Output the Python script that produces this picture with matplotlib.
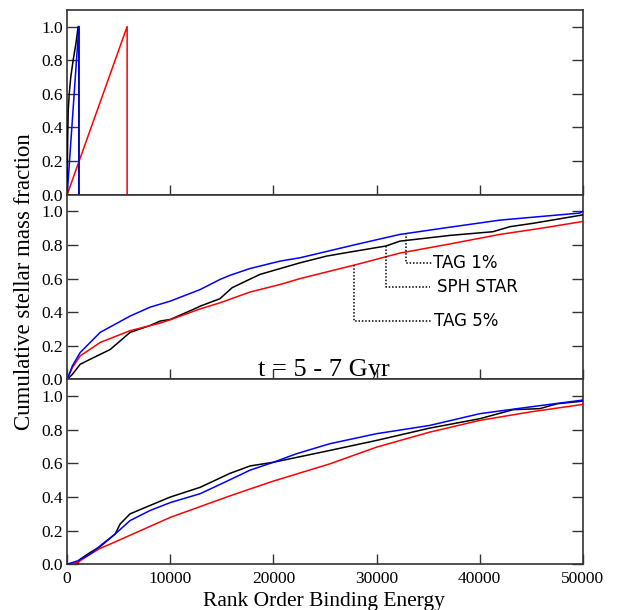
import numpy as np
import matplotlib
matplotlib.use("Agg")
import matplotlib.pyplot as plt

# top panel: first few thousand particles
top_black_x = [0, 40, 100, 200, 350, 580, 850, 1066, 1130, 1130]
top_black_y = [0, 0.3, 0.5, 0.6, 0.7, 0.8, 0.9, 1.0, 1.0, 0]
top_blue_x = [0, 1130, 1150, 1150]
top_blue_y = [0, 1.0, 1.0, 0]
top_red_x = [0, 5814, 5814]
top_red_y = [0, 1.0, 0]

# middle panel
mid_blue_x = [0, 500, 1260, 3200, 6100, 8040, 10000, 12900, 14820, 15800, 17733,
              20640, 22580, 28070, 32270, 37000, 41960, 46000, 49700, 50000]
mid_blue_y = [0, 0.08, 0.16, 0.28, 0.377, 0.43, 0.466, 0.535, 0.595, 0.62, 0.66,
              0.704, 0.724, 0.804, 0.863, 0.905, 0.948, 0.97, 0.99, 1.0]
mid_black_x = [0, 500, 1260, 2230, 4170, 6100, 8000, 9010, 10000, 12240, 12900,
               14800, 16000, 17733, 18700, 22580, 25160, 27420, 30910, 32270,
               37110, 41280, 42930, 45160, 49700, 50000]
mid_black_y = [0, 0.03, 0.09, 0.12, 0.178, 0.28, 0.32, 0.347, 0.357, 0.417, 0.436,
               0.48, 0.546, 0.597, 0.625, 0.694, 0.734, 0.758, 0.794, 0.823,
               0.857, 0.879, 0.909, 0.929, 0.976, 0.98]
mid_red_x = [0, 500, 1260, 3200, 6100, 9000, 10000, 12900, 14820, 17733, 20640,
             22580, 28070, 32270, 37000, 41960, 46000, 50000]
mid_red_y = [0, 0.07, 0.14, 0.22, 0.29, 0.335, 0.355, 0.42, 0.456, 0.52, 0.565,
             0.60, 0.684, 0.752, 0.805, 0.863, 0.90, 0.94]

# bottom panel
bot_blue_x = [0, 1000, 2230, 3200, 4650, 6100, 8040, 10000, 12900, 15790, 17733,
              20000, 22200, 25450, 30000, 35140, 40000, 44860, 49870, 50000]
bot_blue_y = [0, 0.02, 0.06, 0.11, 0.18, 0.26, 0.32, 0.367, 0.42, 0.503, 0.56,
              0.607, 0.657, 0.717, 0.777, 0.826, 0.896, 0.936, 0.976, 0.98]
bot_black_x = [0, 1000, 1260, 2230, 3200, 4650, 5140, 6100, 8040, 10000, 12900,
               15790, 17733, 20000, 25450, 30000, 35140, 40000, 43250, 45830,
               47500, 49870, 50000]
bot_black_y = [0, 0, 0.03, 0.07, 0.105, 0.18, 0.24, 0.30, 0.35, 0.40, 0.458,
               0.541, 0.585, 0.607, 0.677, 0.737, 0.81, 0.866, 0.92, 0.926,
               0.955, 0.97, 0.975]
bot_red_x = [0, 1000, 2230, 3200, 4170, 10000, 15790, 17733, 20000, 25450, 30000,
             35140, 40000, 44860, 49870, 50000]
bot_red_y = [0, 0.01, 0.06, 0.095, 0.12, 0.279, 0.407, 0.448, 0.495, 0.597, 0.697,
             0.786, 0.856, 0.906, 0.95, 0.952]

xticks = [0, 10000, 20000, 30000, 40000, 50000]
yticks = [0.0, 0.2, 0.4, 0.6, 0.8, 1.0]

serif = ["Liberation Serif", "DejaVu Serif"]

fig, axes = plt.subplots(3, 1, figsize=(6.22, 6.10), dpi=100, sharex=True)
fig.subplots_adjust(left=0.108, right=0.937, top=0.984, bottom=0.075, hspace=0)

panels = [
    (top_black_x, top_black_y, top_blue_x, top_blue_y, top_red_x, top_red_y),
    (mid_black_x, mid_black_y, mid_blue_x, mid_blue_y, mid_red_x, mid_red_y),
    (bot_black_x, bot_black_y, bot_blue_x, bot_blue_y, bot_red_x, bot_red_y),
]

for ax, (kx, ky, bx, by, rx, ry) in zip(axes, panels):
    ax.plot(kx, ky, color="black", lw=1.1, zorder=3)
    ax.plot(rx, ry, color="red", lw=1.1, zorder=4)
    ax.plot(bx, by, color="blue", lw=1.1, zorder=5)
    ax.set_xlim(0, 50000)
    ax.set_ylim(0, 1.1)
    ax.set_yticks(yticks)
    ax.set_xticks(xticks)
    ax.tick_params(axis="y", direction="in", length=8, width=1, right=True,
                   labelsize=12.5, pad=3, color="#333333")
    ax.tick_params(axis="x", direction="in", length=7, width=1, top=False,
                   labelsize=12.5, pad=5, color="#333333")
    for s in ax.spines.values():
        s.set_linewidth(1.2)
        s.set_color("#333333")
    for lab in ax.get_yticklabels() + ax.get_xticklabels():
        lab.set_family(serif)
    ax.set_yticklabels(["%.1f" % t for t in yticks])

axes[2].set_xticklabels([str(t) for t in xticks])

# labels pointing at the three curves in the middle panel
mid = axes[1]
notes = [
    ("TAG 1%", mid_blue_x, mid_blue_y, 32900, 0.695, 35330, 35500),
    ("SPH STAR", mid_black_x, mid_black_y, 30910, 0.552, 35170, 35900),
    ("TAG 5%", mid_red_x, mid_red_y, 27840, 0.347, 35330, 35550),
]
for txt, cx, cy, xv, yend, xend, xt in notes:
    ytop = np.interp(xv, cx, cy)
    mid.plot([xv, xv, xend], [ytop, yend, yend], color="black", lw=1.1,
             linestyle=(0, (1, 1.2)), zorder=6)
    mid.text(xt, yend, txt, fontsize=12, family="DejaVu Sans", va="center",
             ha="left")

mid.text(24900, 0.02, "t = 5 - 7 Gyr", fontsize=19, family=serif,
         ha="center", va="baseline", zorder=10, clip_on=False)

fig.text(0.040, 0.5385, "Cumulative stellar mass fraction", rotation=90,
         ha="center", va="center", fontsize=16.5, family=serif)
fig.text(0.521, 0.007, "Rank Order Binding Energy", ha="center",
         va="baseline", fontsize=15.5, family=serif)

fig.savefig("out.png", dpi=100)
